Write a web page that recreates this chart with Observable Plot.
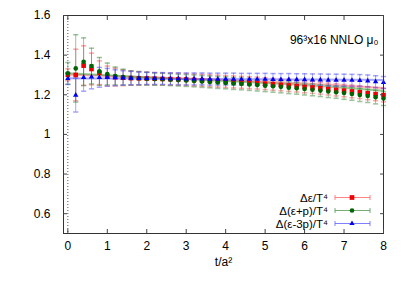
<!DOCTYPE html>
<html><head><meta charset="utf-8">
<script src="https://cdn.jsdelivr.net/npm/d3@7"></script>
<script src="https://cdn.jsdelivr.net/npm/@observablehq/plot@0.6"></script>
<style>body{margin:0;background:#fff}#c{width:409px;height:286px}</style>
</head><body><div id="c"></div>
<script>
const tValues = d3.range(41).map(i => +(i * 0.2).toFixed(1));
const eps = [1.301,1.300,1.347,1.330,1.311,1.295,1.289,1.286,1.284,1.283,1.282,1.281,1.280,1.279,1.278,1.277,1.275,1.273,1.271,1.269,1.267,1.265,1.263,1.261,1.259,1.256,1.253,1.250,1.247,1.244,1.240,1.237,1.233,1.229,1.225,1.221,1.217,1.213,1.208,1.203,1.198];
const epsErr = [0.030,0.130,0.100,0.080,0.060,0.050,0.045,0.040,0.036,0.034,0.032,0.031,0.030,0.030,0.030,0.030,0.030,0.030,0.030,0.030,0.030,0.030,0.030,0.030,0.030,0.030,0.030,0.030,0.030,0.030,0.030,0.030,0.030,0.030,0.031,0.031,0.032,0.032,0.033,0.033,0.034];
const epsP = [1.308,1.333,1.367,1.345,1.318,1.305,1.295,1.289,1.285,1.283,1.281,1.279,1.278,1.276,1.274,1.272,1.270,1.267,1.265,1.262,1.260,1.257,1.255,1.252,1.249,1.246,1.243,1.240,1.236,1.233,1.229,1.225,1.221,1.217,1.213,1.209,1.204,1.199,1.194,1.188,1.181];
const epsPErr = [0.055,0.170,0.120,0.090,0.070,0.055,0.045,0.040,0.036,0.034,0.032,0.031,0.030,0.030,0.030,0.030,0.030,0.030,0.030,0.030,0.030,0.030,0.030,0.030,0.030,0.030,0.030,0.030,0.030,0.030,0.030,0.030,0.030,0.031,0.031,0.032,0.032,0.033,0.033,0.034,0.035];
const eps3p = [1.282,1.198,1.288,1.290,1.288,1.288,1.286,1.285,1.284,1.283,1.283,1.282,1.282,1.281,1.281,1.280,1.280,1.280,1.279,1.279,1.279,1.279,1.278,1.278,1.278,1.278,1.277,1.277,1.277,1.276,1.276,1.275,1.275,1.274,1.274,1.274,1.273,1.272,1.270,1.266,1.262];
const eps3pErr = [0.030,0.085,0.070,0.060,0.050,0.045,0.040,0.036,0.034,0.032,0.031,0.030,0.030,0.030,0.030,0.030,0.030,0.030,0.030,0.030,0.030,0.030,0.030,0.030,0.030,0.030,0.030,0.030,0.030,0.030,0.030,0.030,0.030,0.030,0.030,0.030,0.030,0.030,0.030,0.030,0.030];
const fitT = [0,1,2,3,4,5,6,7,8];
const epsFit = [1.302,1.295,1.288,1.281,1.274,1.266,1.257,1.246,1.234];
const epsPFit = [1.308,1.298,1.288,1.279,1.270,1.260,1.249,1.236,1.220];
const eps3pFit = [1.283,1.282,1.281,1.280,1.279,1.278,1.277,1.276,1.275];
const xTicks = [0,1,2,3,4,5,6,7,8];
const yTicks = [0.6,0.8,1.0,1.2,1.4,1.6];
const yTickLabels = ["0.6","0.8","1","1.2","1.4","1.6"];
const seriesNames = ["\u0394\u03b5/T\u2074","\u0394(\u03b5+p)/T\u2074","\u0394(\u03b5-3p)/T\u2074"];
const title = "96\u00b3x16 NNLO \u03bc\u2080";
const xLabel = "t/a\u00b2";

const colors = ["#ee0000","#006400","#0000ee"];
const errColors = ["#ff5050","#3a8a3a","#4a4aff"];
const fitColors = ["#ff6060","#40a040","#6060ff"];
const symbols = ["square","circle","triangle"];
const radii = [2.6, 2.3, 2.0];

const capSymbol = {draw(ctx, size){ const w = 2.6; ctx.moveTo(-w,0); ctx.lineTo(w,0); }};

const series = [
  {vals: eps, err: epsErr, fit: epsFit},
  {vals: epsP, err: epsPErr, fit: epsPFit},
  {vals: eps3p, err: eps3pErr, fit: eps3pFit}
];
const marks = [];
const ptsAll = [];
series.forEach((s, k) => {
  const pts = tValues.map((t, i) => ({t, v: s.vals[i], lo: s.vals[i] - s.err[i], hi: s.vals[i] + s.err[i]}));
  const fit = fitT.map((t, i) => ({t, v: s.fit[i]}));
  marks.push(Plot.line(fit, {x: "t", y: "v", stroke: fitColors[k], strokeOpacity: 0.55, strokeWidth: 2, curve: "monotone-x"}));
  marks.push(Plot.ruleX(pts, {x: "t", y1: "lo", y2: "hi", stroke: errColors[k], strokeOpacity: 0.5, strokeWidth: 1}));
  marks.push(Plot.dot(pts, {x: "t", y: "lo", symbol: capSymbol, stroke: errColors[k], strokeOpacity: 0.5, r: 1}));
  marks.push(Plot.dot(pts, {x: "t", y: "hi", symbol: capSymbol, stroke: errColors[k], strokeOpacity: 0.5, r: 1}));
  ptsAll.push(pts);
});
series.forEach((s, k) => {
  marks.push(Plot.dot(ptsAll[k], {x: "t", y: "v", symbol: symbols[k], fill: colors[k], stroke: "none", r: radii[k]}));
});

const plot = Plot.plot({
  width: 409, height: 286,
  marginLeft: 63, marginRight: 26, marginTop: 15, marginBottom: 53,
  style: {fontFamily: "'Liberation Sans', Arial, sans-serif", fontSize: "12px", color: "#000", background: "#fff"},
  x: {domain: [-0.11, 8]},
  y: {domain: [0.5, 1.6]},
  marks: [
    Plot.ruleX([0], {stroke: "#555", strokeDasharray: "1,2", strokeWidth: 1}),
    ...marks,
    Plot.frame({stroke: "#333"}),
    Plot.axisX(xTicks, {anchor: "bottom", tickSize: -4, text: null, label: null, stroke: "#444"}),
    Plot.axisX(xTicks, {anchor: "top", tickSize: -4, text: null, label: null, stroke: "#444"}),
    Plot.axisX(xTicks, {anchor: "bottom", tickSize: 0, tickPadding: 8, label: null, fontSize: 12, tickFormat: d => String(d)}),
    Plot.axisY(yTicks, {anchor: "left", tickSize: -4, text: null, label: null, stroke: "#444"}),
    Plot.axisY(yTicks, {anchor: "right", tickSize: -4, text: null, label: null, stroke: "#444"}),
    Plot.axisY(yTicks, {anchor: "left", tickSize: 0, tickPadding: 13, label: null, fontSize: 12, tickFormat: d => yTickLabels[yTicks.indexOf(d)]}),
    Plot.text([xLabel], {frameAnchor: "bottom", dy: 32, fontSize: 12}),
    Plot.text([title], {frameAnchor: "top-right", textAnchor: "end", dx: -5, dy: 20, fontSize: 12})
  ]
});
document.getElementById("c").appendChild(plot);

// legend
const svg = d3.select(plot);
const lg = svg.append("g").attr("font-family", "'Liberation Sans', Arial, sans-serif").attr("font-size", 11.5);
const rowY = [197.5, 210.5, 223.5];
seriesNames.forEach((name, k) => {
  const y = rowY[k];
  lg.append("text").attr("x", 328).attr("y", y).attr("dy", "0.35em").attr("text-anchor", "end").attr("fill", "#000").text(name);
  lg.append("line").attr("x1", 335).attr("x2", 370).attr("y1", y).attr("y2", y).attr("stroke", errColors[k]).attr("stroke-opacity", 0.7);
  lg.append("line").attr("x1", 335).attr("x2", 335).attr("y1", y - 2.5).attr("y2", y + 2.5).attr("stroke", errColors[k]).attr("stroke-opacity", 0.7);
  lg.append("line").attr("x1", 370).attr("x2", 370).attr("y1", y - 2.5).attr("y2", y + 2.5).attr("stroke", errColors[k]).attr("stroke-opacity", 0.7);
  const sym = d3.symbol().type([d3.symbolSquare, d3.symbolCircle, d3.symbolTriangle][k]).size([22, 17, 12][k]);
  lg.append("path").attr("d", sym()).attr("transform", `translate(352,${y})`).attr("fill", colors[k]);
});
</script></body></html>
